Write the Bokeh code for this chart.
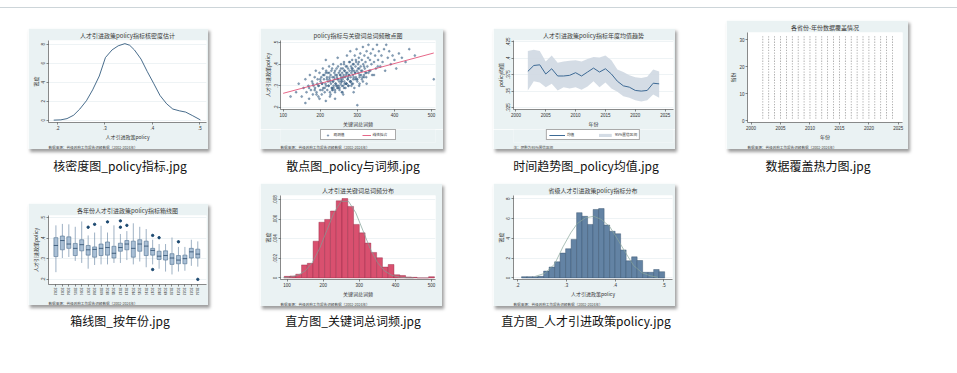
from bokeh.plotting import figure
from bokeh.models import (ColumnDataSource, Div, Spacer, Legend, LegendItem,
                          Title, FixedTicker, Range1d)
from bokeh.layouts import row, column
from bokeh.embed import file_html
from bokeh.resources import INLINE

CJK = "Noto Sans CJK SC"
LAT = "Liberation Sans"
BG = "#eaf2f3"
GRID = "#e3ebee"
AX = "#3a3a3a"
SHADOW = {"box-shadow": "2px 3px 3px rgba(0,0,0,0.38)"}
NOTE = "数据来源：省级政府工作报告词频数据（2002-2024年）"

# ---------------- data ----------------
# 1. kernel density of policy
kd_x = [0.192, 0.207, 0.220, 0.234, 0.247, 0.261, 0.274, 0.288, 0.301, 0.315, 0.328, 0.342,
        0.352, 0.362, 0.376, 0.389, 0.403, 0.416, 0.430, 0.443, 0.457, 0.470, 0.484, 0.501]
kd_y = [0.00, 0.03, 0.16, 0.52, 1.17, 2.05, 3.19, 4.65, 6.60, 7.41, 7.84, 8.07,
        7.90, 7.41, 6.44, 5.14, 3.84, 2.60, 1.72, 1.17, 0.98, 0.85, 0.49, 0.03]
kd_xticks = [0.2, 0.3, 0.4, 0.5]
kd_xlabels = [".2", ".3", ".4", ".5"]
kd_yticks = [0, 2, 4, 6, 8]

# 2. scatter policy vs keyword frequency
sc_freq_a = [135, 142, 150, 155, 160, 163, 168, 170, 172, 175, 178, 180, 182, 185, 186, 188, 190, 192, 193, 195,
             196, 198, 200, 201, 203, 204, 205, 207, 208, 210, 211, 212, 214, 215, 216, 218, 219, 220, 221, 223,
             224, 225, 226, 228, 229, 230, 231, 233, 234, 235, 236, 238, 239, 240, 241, 242, 244, 245, 246, 247,
             248, 250, 251, 252, 253, 254, 255, 256, 257, 258, 259, 260, 261, 262, 263, 264, 265, 266, 267, 268,
             269, 270, 271, 272, 273, 274, 275, 276, 277, 278, 279, 280, 281, 282, 283, 284, 285, 286, 287, 288,
             289, 290, 291, 292, 293, 294, 295, 296, 297, 298, 299, 300, 302, 303, 304, 305, 306, 308, 309, 310,
             312, 313, 315, 316, 318, 319, 320, 322, 324, 325, 327, 329, 330, 332, 334, 336, 338, 340, 342, 345,
             348, 350, 353, 356, 358, 362, 365, 368, 372, 375, 378, 382, 386, 390, 395, 400, 405, 412, 420, 430,
             440, 455, 506, 300, 240, 160, 120, 215, 232, 262, 248, 226, 284, 206, 198, 270, 290, 243, 257, 236]
sc_policy_a = [0.27, 0.31, 0.25, 0.29, 0.33, 0.27, 0.30, 0.24, 0.35, 0.28, 0.32, 0.26, 0.30, 0.34, 0.29, 0.37, 0.27, 0.31, 0.33, 0.25,
               0.30, 0.36, 0.28, 0.32, 0.34, 0.26, 0.31, 0.38, 0.29, 0.33, 0.35, 0.27, 0.31, 0.42, 0.30, 0.34, 0.28, 0.36, 0.32, 0.30,
               0.39, 0.33, 0.27, 0.35, 0.31, 0.37, 0.29, 0.34, 0.32, 0.40, 0.30, 0.36, 0.33, 0.28, 0.35, 0.31, 0.38, 0.34, 0.30, 0.43,
               0.33, 0.36, 0.32, 0.29, 0.37, 0.35, 0.31, 0.40, 0.34, 0.27, 0.36, 0.33, 0.38, 0.30, 0.35, 0.41, 0.32, 0.37, 0.34, 0.29,
               0.39, 0.35, 0.31, 0.44, 0.36, 0.33, 0.38, 0.30, 0.35, 0.41, 0.37, 0.32, 0.46, 0.34, 0.39, 0.36, 0.31, 0.42, 0.38, 0.35,
               0.33, 0.40, 0.37, 0.29, 0.44, 0.36, 0.39, 0.34, 0.41, 0.47, 0.37, 0.33, 0.40, 0.36, 0.43, 0.38, 0.31, 0.45, 0.39, 0.35,
               0.42, 0.37, 0.48, 0.40, 0.34, 0.44, 0.38, 0.41, 0.36, 0.46, 0.39, 0.43, 0.49, 0.37, 0.42, 0.45, 0.40, 0.35, 0.47, 0.41,
               0.44, 0.38, 0.49, 0.42, 0.46, 0.39, 0.44, 0.41, 0.47, 0.37, 0.49, 0.43, 0.46, 0.40, 0.44, 0.42, 0.38, 0.45, 0.43, 0.41,
               0.47, 0.44, 0.33, 0.21, 0.24, 0.22, 0.25, 0.23, 0.28, 0.26, 0.29, 0.25, 0.30, 0.28, 0.24, 0.31, 0.27, 0.30, 0.32, 0.29]
sc_freq_b = [205, 212, 218, 222, 227, 232, 237, 241, 246, 250, 254, 258, 262, 266, 270, 274, 278, 282, 286, 290,
             294, 298, 302, 306, 310, 314, 318, 322, 228, 234, 240, 246, 252, 258, 264, 270, 276, 282, 288, 294,
             300, 306, 312, 318, 324, 330, 200, 208, 216, 224, 232, 240, 248, 256, 264, 272, 280, 288, 296, 304,
             185, 195, 245, 255, 265, 275, 285, 235, 225, 215, 305, 315, 325, 335, 345, 355, 180, 190, 170, 260]
sc_policy_b = [0.31, 0.29, 0.33, 0.30, 0.32, 0.29, 0.34, 0.31, 0.33, 0.30, 0.35, 0.32, 0.34, 0.31, 0.36, 0.33, 0.35, 0.32, 0.37, 0.34,
               0.36, 0.33, 0.38, 0.35, 0.37, 0.34, 0.39, 0.36, 0.26, 0.28, 0.27, 0.29, 0.28, 0.30, 0.29, 0.31, 0.30, 0.32, 0.31, 0.33,
               0.32, 0.34, 0.33, 0.35, 0.34, 0.36, 0.33, 0.35, 0.37, 0.36, 0.38, 0.37, 0.39, 0.38, 0.40, 0.39, 0.41, 0.40, 0.42, 0.41,
               0.28, 0.30, 0.35, 0.33, 0.37, 0.34, 0.38, 0.32, 0.34, 0.36, 0.30, 0.32, 0.31, 0.37, 0.35, 0.39, 0.31, 0.26, 0.29, 0.27]
sc_freq = sc_freq_a + sc_freq_b
sc_policy = sc_policy_a + sc_policy_b
fit_freq = [100, 506]
fit_policy = [0.265, 0.452]
sc_xticks = [100, 200, 300, 400, 500]
sc_yticks = [0.2, 0.3, 0.4, 0.5]
sc_ylabels = [".2", ".3", ".4", ".5"]

# 3. yearly mean trend
tr_years = [2002, 2003, 2004, 2005, 2006, 2007, 2008, 2009, 2010, 2011, 2012, 2013,
            2014, 2015, 2016, 2017, 2018, 2019, 2020, 2021, 2022, 2023, 2024]
tr_mean = [0.380, 0.389, 0.390, 0.376, 0.384, 0.373, 0.373, 0.374, 0.378, 0.373, 0.379, 0.385,
           0.379, 0.384, 0.376, 0.365, 0.358, 0.356, 0.351, 0.350, 0.351, 0.362, 0.361]
tr_upper = [0.411, 0.413, 0.411, 0.395, 0.404, 0.393, 0.395, 0.396, 0.397, 0.395, 0.399, 0.402,
            0.401, 0.404, 0.397, 0.383, 0.379, 0.374, 0.371, 0.370, 0.372, 0.383, 0.380]
tr_lower = [0.351, 0.365, 0.363, 0.356, 0.361, 0.351, 0.356, 0.354, 0.356, 0.352, 0.357, 0.365,
            0.356, 0.363, 0.354, 0.349, 0.342, 0.340, 0.336, 0.334, 0.336, 0.345, 0.340]
tr_xticks = [2000, 2005, 2010, 2015, 2020, 2025]
tr_yticks = [0.325, 0.35, 0.375, 0.4, 0.425]
tr_ylabels = [".325", ".35", ".375", ".4", ".425"]

# 4. coverage heatmap
hm_years = [2002, 2003, 2004, 2005, 2006, 2007, 2008, 2009, 2010, 2011, 2012, 2013,
            2014, 2015, 2016, 2017, 2018, 2019, 2020, 2021, 2022, 2023, 2024]
hm_provinces = [1, 2, 3, 4, 5, 6, 7, 8, 9, 10, 11, 12, 13, 14, 15, 16, 17, 18, 19, 20,
                21, 22, 23, 24, 25, 26, 27, 28, 29, 30, 31]
hm_xticks = [2000, 2005, 2010, 2015, 2020, 2025]
hm_yticks = [0, 10, 20, 30]

# 5. box plot by year
bx_years = [2002, 2003, 2004, 2005, 2006, 2007, 2008, 2009, 2010, 2011, 2012, 2013,
            2014, 2015, 2016, 2017, 2018, 2019, 2020, 2021, 2022, 2023, 2024]
bx_hi = [0.463, 0.470, 0.468, 0.456, 0.482, 0.414, 0.428, 0.461, 0.428, 0.463, 0.421, 0.435,
         0.473, 0.456, 0.445, 0.393, 0.372, 0.372, 0.404, 0.358, 0.358, 0.393, 0.385]
bx_q3 = [0.403, 0.411, 0.407, 0.375, 0.393, 0.365, 0.358, 0.372, 0.382, 0.361, 0.376, 0.389,
         0.386, 0.393, 0.386, 0.351, 0.337, 0.339, 0.325, 0.316, 0.318, 0.351, 0.347]
bx_med = [0.365, 0.389, 0.372, 0.351, 0.369, 0.344, 0.346, 0.351, 0.355, 0.327, 0.355, 0.372,
          0.351, 0.372, 0.362, 0.341, 0.313, 0.316, 0.304, 0.294, 0.301, 0.334, 0.323]
bx_q1 = [0.311, 0.344, 0.351, 0.316, 0.339, 0.318, 0.308, 0.316, 0.318, 0.304, 0.337, 0.344,
         0.308, 0.337, 0.316, 0.318, 0.297, 0.294, 0.273, 0.276, 0.276, 0.304, 0.304]
bx_lo = [0.235, 0.304, 0.309, 0.290, 0.280, 0.252, 0.270, 0.273, 0.273, 0.280, 0.280, 0.294,
         0.273, 0.287, 0.259, 0.273, 0.252, 0.238, 0.224, 0.238, 0.242, 0.266, 0.262]
bx_out_years = [2007, 2008, 2010, 2012, 2012, 2013, 2017, 2017, 2018, 2021, 2024]
bx_out_vals = [0.454, 0.468, 0.480, 0.485, 0.454, 0.463, 0.414, 0.248, 0.403, 0.383, 0.200]
bx_yticks = [0.2, 0.3, 0.4, 0.5]
bx_ylabels = [".2", ".3", ".4", ".5"]

# 6. histogram keyword total frequency
h1_left = [92, 108, 124, 140, 156, 172, 188, 204, 220, 236, 252, 268, 284, 300, 316, 332,
           348, 364, 380, 396, 412, 428, 444, 460, 476, 492]
h1_dens = [0.00016, 0.0002, 0.00038, 0.00133, 0.00149, 0.00375, 0.00568, 0.00597, 0.00683,
           0.00787, 0.0081, 0.0073, 0.00546, 0.0046, 0.00356, 0.0026, 0.00206, 0.00111,
           0.00137, 0.00032, 0.00025, 0.0001, 0.00006, 0.0, 0.0, 0.00013]
h1_bin = 16
h1_cx = [90, 110, 130, 150, 170, 190, 210, 230, 250, 270, 290, 310, 330, 350, 370, 390, 410, 430, 450]
h1_cy = [0.00002, 0.00009, 0.00027, 0.00071, 0.00158, 0.0030, 0.00484, 0.00666, 0.00782, 0.00782,
         0.00666, 0.00484, 0.0030, 0.00158, 0.00071, 0.00027, 0.00009, 0.00002, 0.000006]
h1_xticks = [100, 200, 300, 400, 500]
h1_yticks = [0, 0.002, 0.004, 0.006, 0.008]
h1_ylabels = ["0", ".002", ".004", ".006", ".008"]

# 7. histogram policy
h2_left = [0.208, 0.2193, 0.2306, 0.2419, 0.2532, 0.2645, 0.2758, 0.2871, 0.2984, 0.3097,
           0.321, 0.3323, 0.3436, 0.3549, 0.3662, 0.3775, 0.3888, 0.4001, 0.4114, 0.4227,
           0.434, 0.4453, 0.4566, 0.4679, 0.4792, 0.4905]
h2_dens = [0.13, 0.13, 0.13, 0.16, 0.69, 1.10, 1.63, 2.51, 2.95, 3.89, 6.59, 6.22, 5.40,
           6.91, 7.00, 5.34, 4.71, 4.46, 2.83, 1.73, 2.13, 1.76, 0.57, 0.57, 0.85, 0.63]
h2_bin = 0.0113
h2_cx = [0.236, 0.256, 0.276, 0.293, 0.309, 0.3225, 0.339, 0.356, 0.372, 0.389, 0.405,
         0.422, 0.438, 0.455, 0.472, 0.488]
h2_cy = [0.16, 0.47, 1.41, 3.14, 4.55, 5.5, 6.06, 6.22, 5.9, 5.18, 3.92, 2.51, 1.26, 0.53, 0.22, 0.06]
h2_xticks = [0.2, 0.3, 0.4, 0.5]
h2_xlabels = [".2", ".3", ".4", ".5"]
h2_yticks = [0, 2, 4, 6, 8]

captions_row1 = ["核密度图_policy指标.jpg", "散点图_policy与词频.jpg",
                 "时间趋势图_policy均值.jpg", "数据覆盖热力图.jpg"]
captions_row2 = ["箱线图_按年份.jpg", "直方图_关键词总词频.jpg", "直方图_人才引进政策policy.jpg"]


# ---------------- helpers ----------------
def thumb(w, h, title, xr, yr, borders, xlabel, ylabel, xticks, yticks,
          xlabels=None, ylabels=None, yvertical=True, shadow=True):
    l, r, t, b = borders
    p = figure(width=w, height=h, x_range=Range1d(*xr), y_range=Range1d(*yr),
               output_backend="svg", toolbar_location=None,
               min_border_left=l, min_border_right=r, min_border_top=t, min_border_bottom=b,
               background_fill_color="white", border_fill_color=BG, outline_line_color=None,
               styles=SHADOW if shadow else {})
    p.title.text = title
    p.title.align = "center"
    p.title.text_font = CJK
    p.title.text_font_size = "6px"
    p.title.text_font_style = "normal"
    p.title.text_color = "#3a3a3a"
    p.title.standoff = 1
    p.xgrid.visible = False
    p.ygrid.grid_line_color = GRID
    p.ygrid.grid_line_width = 0.6
    p.xaxis.axis_label = xlabel
    p.yaxis.axis_label = ylabel
    p.xaxis.ticker = FixedTicker(ticks=xticks)
    p.yaxis.ticker = FixedTicker(ticks=yticks)
    if xlabels:
        p.xaxis.major_label_overrides = dict(zip(xticks, xlabels))
    if ylabels:
        p.yaxis.major_label_overrides = dict(zip(yticks, ylabels))
    for ax in (p.xaxis[0], p.yaxis[0]):
        ax.axis_line_color = AX
        ax.axis_line_width = 0.6
        ax.major_tick_line_color = AX
        ax.major_tick_line_width = 0.6
        ax.major_tick_out = 2
        ax.major_tick_in = 0
        ax.minor_tick_line_color = None
        ax.major_label_text_font = LAT
        ax.major_label_text_font_size = "4.5px"
        ax.major_label_text_color = "#333"
        ax.major_label_standoff = 1
        ax.axis_label_text_font = CJK
        ax.axis_label_text_font_size = "5px"
        ax.axis_label_text_font_style = "normal"
        ax.axis_label_text_color = "#333"
        ax.axis_label_standoff = 0
    if yvertical:
        p.yaxis.major_label_orientation = "vertical"
    return p


def add_note(p, text=NOTE, standoff=0):
    p.add_layout(Title(text=text, text_font=CJK, text_font_size="3.6px",
                       text_font_style="normal", text_color="#444",
                       align="left", standoff=standoff), "below")


def legend_strip(w, h, left, right, make_items, glyph_w, spacing, note):
    # the strip's own range is 0..1, so the proxy renderers (real data) fall outside it
    s = figure(width=w, height=h, x_range=Range1d(0, 1), y_range=Range1d(0, 1),
               x_axis_type=None, y_axis_type=None, output_backend="svg", toolbar_location=None,
               min_border_left=left, min_border_right=right, min_border_top=0, min_border_bottom=0,
               background_fill_color=BG, border_fill_color=BG, outline_line_color=None)
    items = make_items(s)
    s.add_layout(Legend(items=items, orientation="horizontal", location="top_center",
                        label_text_font=CJK, label_text_font_size="3.7px",
                        label_text_color="#333", label_height=4, label_standoff=2,
                        glyph_height=4, glyph_width=glyph_w, spacing=spacing, padding=2, margin=0,
                        border_line_color="#555", border_line_width=0.5,
                        background_fill_color="white", background_fill_alpha=1.0))
    add_note(s, note)
    return s


def caption(txt):
    return Div(text=txt, width=224, height=20, margin=0,
               styles={"font-family": "'Noto Sans CJK SC', sans-serif", "font-size": "12px",
                       "color": "#111", "text-align": "center", "line-height": "20px",
                       "white-space": "nowrap"})


# ---------------- 1. kernel density ----------------
p1 = thumb(180, 121, "人才引进政策policy指标核密度估计", (0.181, 0.514), (-0.25, 8.4),
           (14, 2, 10, 22), "人才引进政策policy", "密度", kd_xticks, kd_yticks, xlabels=kd_xlabels)
p1.line(kd_x, kd_y, line_color="#1a476f", line_width=0.8)
add_note(p1)

# ---------------- 2. scatter ----------------
SC_STYLE = dict(size=2.0, fill_color="#4a6d8f", line_color="#1a476f", line_width=0.3, fill_alpha=0.6)
FIT_STYLE = dict(line_color="#e0406a", line_width=0.8)
p2 = thumb(183, 101, "policy指标与关键词总词频散点图", (92.9, 510.7), (0.19, 0.51),
           (19, 8, 10, 10), "关键词总词频", "人才引进政策policy", sc_xticks, sc_yticks,
           ylabels=sc_ylabels, shadow=False)
p2.scatter(sc_freq, sc_policy, **SC_STYLE)
p2.line(fit_freq, fit_policy, **FIT_STYLE)


def items2(s):
    a = s.scatter(sc_freq, sc_policy, **SC_STYLE)
    b = s.line(fit_freq, fit_policy, **FIT_STYLE)
    return [LegendItem(label="观测值", renderers=[a]), LegendItem(label="线性拟合", renderers=[b])]


s2 = legend_strip(183, 20, 19, 8, items2, 9, 8, NOTE)
t2 = column(p2, s2, styles=SHADOW)

# ---------------- 3. trend ----------------
BAND_STYLE = dict(fill_color="#cfd8e2", fill_alpha=0.9)
MEAN_STYLE = dict(line_color="#3d6a95", line_width=1.0)
p3 = thumb(182, 101, "人才引进政策policy指标年度均值趋势", (1999.6, 2026.4), (0.322, 0.427),
           (16, 2, 12, 10), "年份", "policy均值", tr_xticks, tr_yticks, ylabels=tr_ylabels,
           shadow=False)
p3.varea(x=tr_years, y1=tr_lower, y2=tr_upper, **BAND_STYLE)
p3.line(tr_years, tr_mean, **MEAN_STYLE)


def items3(s):
    a = s.line(tr_years, tr_mean, **MEAN_STYLE)
    b = s.varea(x=tr_years, y1=tr_lower, y2=tr_upper, **BAND_STYLE)
    return [LegendItem(label="均值", renderers=[a]), LegendItem(label="95%置信区间", renderers=[b])]


s3 = legend_strip(182, 20, 16, 2, items3, 16, 10, "注：阴影为95%置信区间")
t3 = column(p3, s3, styles=SHADOW)

# ---------------- 4. coverage heatmap ----------------
p4 = thumb(182, 129, "各省份-年份数据覆盖情况", (1999.4, 2025.7), (-0.6, 32.6),
           (19, 6, 10, 24), "年份", "省份", hm_xticks, hm_yticks, yvertical=False)
hm_x = [y for y in hm_years for _ in hm_provinces]
hm_y = [pv for _ in hm_years for pv in hm_provinces]
p4.rect(x=hm_x, y=hm_y, width=0.13, height=0.5, fill_color="#9a9a9a", line_color=None)
p4.ygrid.visible = False
add_note(p4)

# ---------------- 5. box plot ----------------
p5 = thumb(180, 102, "各年份人才引进政策policy指标箱线图", (2000.85, 2025.35), (0.175, 0.511),
           (15, 2, 8, 14), "", "人才引进政策policy", bx_years, bx_yticks, ylabels=bx_ylabels)
p5.xaxis.major_label_orientation = "vertical"
p5.xaxis.major_label_text_font_size = "3.4px"
bsrc = ColumnDataSource(dict(year=bx_years, q1=bx_q1, med=bx_med, q3=bx_q3, lo=bx_lo, hi=bx_hi))
p5.segment(x0="year", y0="q3", x1="year", y1="hi", source=bsrc, line_color="#5c7c9c", line_width=0.6)
p5.segment(x0="year", y0="lo", x1="year", y1="q1", source=bsrc, line_color="#5c7c9c", line_width=0.6)
p5.vbar(x="year", width=0.62, bottom="q1", top="q3", source=bsrc,
        fill_color="#a9bfd5", line_color="#4d6e8e", line_width=0.6)
p5.scatter(x="year", y="med", source=bsrc, marker="dash", size=4.3, line_color="#2b4a6b", line_width=0.8)
p5.scatter(bx_out_years, bx_out_vals, size=2.4, fill_color="#1a476f", line_color="#1a476f")
add_note(p5)

# ---------------- 6. histogram keyword freq ----------------
p6 = thumb(182, 123, "人才引进关键词总词频分布", (81.7, 511), (-0.00016, 0.00841),
           (19, 7, 12, 21), "关键词总词频", "密度", h1_xticks, h1_yticks, ylabels=h1_ylabels)
p6.quad(left=h1_left, right=[v + h1_bin for v in h1_left], bottom=0, top=h1_dens,
        fill_color="#d9506f", line_color="#8e2440", line_width=0.4)
p6.line(h1_cx, h1_cy, line_color="#7f9f96", line_width=0.7)
add_note(p6)

# ---------------- 7. histogram policy ----------------
p7 = thumb(182, 123, "省级人才引进政策policy指标分布", (0.1914, 0.5179), (-0.157, 8.32),
           (18, 3, 12, 21), "人才引进政策policy", "密度", h2_xticks, h2_yticks, xlabels=h2_xlabels)
p7.quad(left=h2_left, right=[v + h2_bin for v in h2_left], bottom=0, top=h2_dens,
        fill_color="#6383a4", line_color="#2c4763", line_width=0.4)
p7.line(h2_cx, h2_cy, line_color="#8aa69b", line_width=0.7)
add_note(p7)

# ---------------- page layout (page origin = 0,0) ----------------
def stack(top, el, w):
    return column(Spacer(width=w, height=top), el)

def hsp(w):
    return Spacer(width=w, height=1)

def vsp(h):
    return Spacer(width=10, height=h)

top_line = Div(width=957, height=1, margin=0, styles={"background-color": "#cdd5d9"})

row1 = row(hsp(28), stack(20, p1, 180), hsp(52), stack(20, t2, 183), hsp(50), stack(20, t3, 182),
           hsp(51), stack(12, p4, 182))
cap1 = row(hsp(8), caption(captions_row1[0]), hsp(9), caption(captions_row1[1]), hsp(9),
           caption(captions_row1[2]), hsp(8), caption(captions_row1[3]))
row2 = row(hsp(28), stack(20, p5, 180), hsp(52), stack(0, p6, 182), hsp(51), stack(0, p7, 182))
cap2 = row(hsp(8), caption(captions_row2[0]), hsp(9), caption(captions_row2[1]), hsp(9),
           caption(captions_row2[2]))

content = column(row1, vsp(7), cap1, vsp(7), row2, vsp(5), cap2)
vline = Div(width=1, height=360, margin=0, styles={"background-color": "#e2e7e9"})
page = column(vsp(7), top_line, row(content, hsp(953 - 922), vline))

open("out.html", "w").write(file_html(page, INLINE))
